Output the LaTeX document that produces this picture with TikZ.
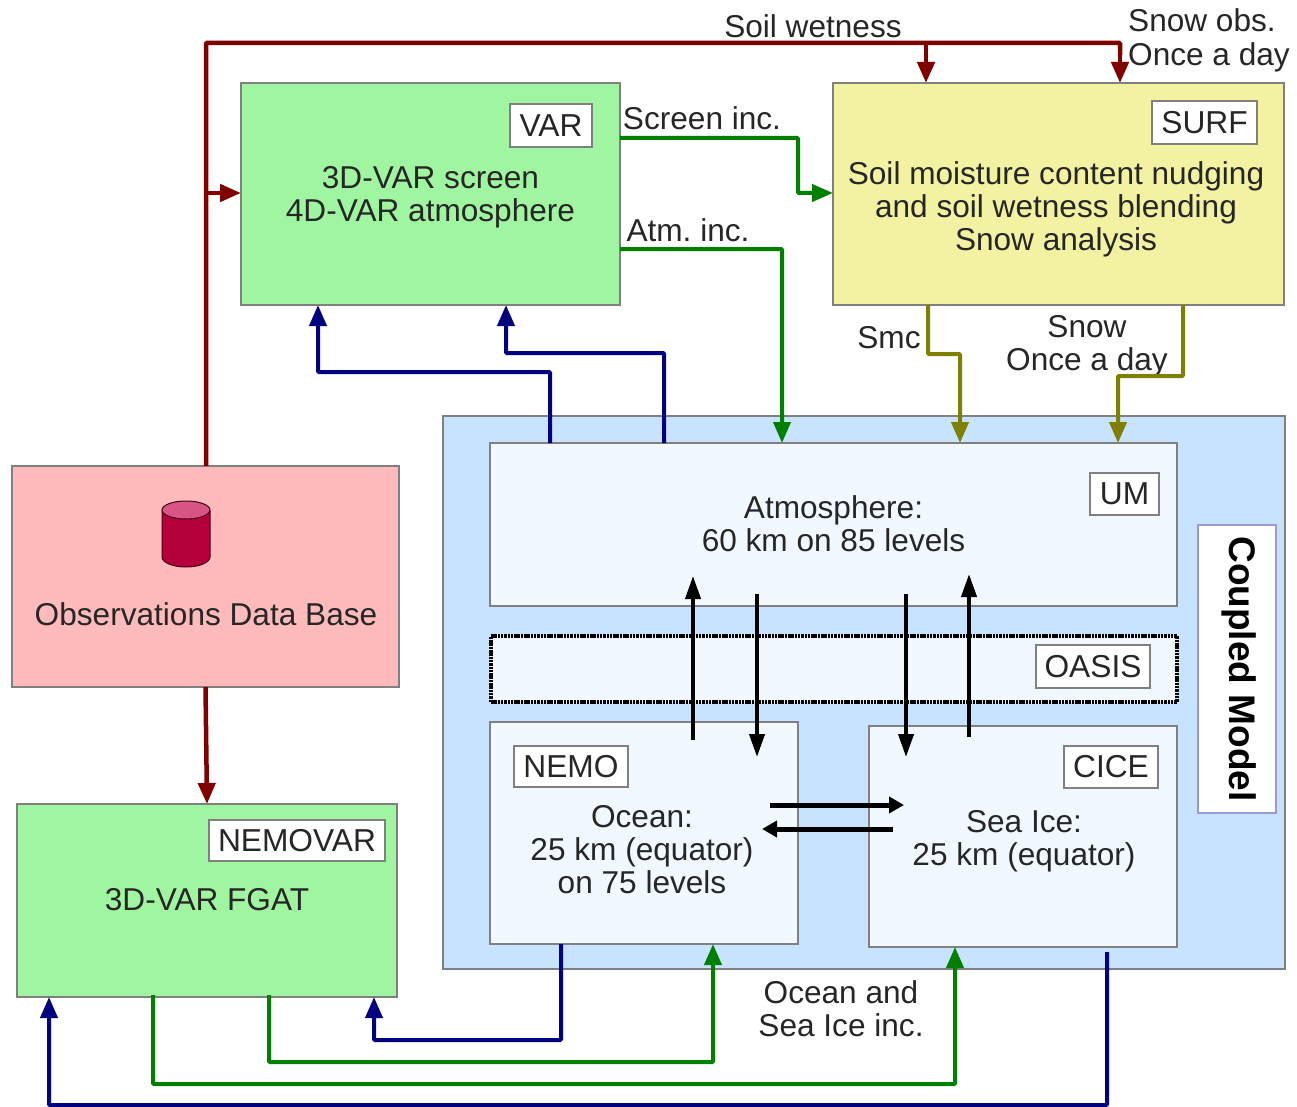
\documentclass[tikz,border=0pt]{standalone}
\usepackage{fontspec}
\setmainfont{Liberation Sans}
\usetikzlibrary{arrows.meta, positioning, calc}
\definecolor{greenbox}{HTML}{A0F5A0}
\definecolor{yellowbox}{HTML}{F2F2A2}
\definecolor{pinkbox}{HTML}{FFBBBB}
\definecolor{bluebox}{HTML}{C8E3FF}
\definecolor{palebox}{HTML}{F2F8FF}
\definecolor{notedge}{HTML}{9A9AD8}
\definecolor{dbbody}{HTML}{B5003C}
\definecolor{dbtop}{HTML}{D85585}
\definecolor{linered}{HTML}{800000}
\definecolor{linegreen}{HTML}{008000}
\definecolor{lineblue}{HTML}{000080}
\definecolor{lineolive}{HTML}{808000}

\begin{document}
\frenchspacing
\begin{tikzpicture}[x=1pt, y=-1pt,
    modelbox/.style={
        draw=black!50,
        line width=1.3pt,
        inner sep=0pt,
        outer sep=0pt
    },
    tagbox/.style={
        modelbox,
        fill=white,
        font=\fontsize{31.7}{33}\selectfont,
        text=black!85
    },
    labeltext/.style={
        font=\fontsize{31.6}{33}\selectfont,
        text=black!85,
        align=center,
        inner sep=0pt
    },
    flow/.style={
        line width=4pt,
        rounded corners=1pt,
        -{Triangle[length=21pt,width=17pt]}
    },
    redflow/.style={flow, linered, line width=4.5pt},
    greenflow/.style={flow, linegreen},
    blueflow/.style={flow, lineblue},
    oliveflow/.style={flow, lineolive},
    blackflow/.style={flow, black, -{Triangle[length=23pt,width=15pt]}},
    sideflow/.style={flow, black, line width=5pt, -{Triangle[length=15pt,width=16pt]}}
]
\useasboundingbox (0,0) rectangle (1297,1107);

% Main boxes
\node[modelbox, fill=greenbox, minimum width=379pt, minimum height=222pt] (var) at (430.5,194) {};
\node[modelbox, fill=yellowbox, minimum width=451pt, minimum height=222pt] (surf) at (1058.5,194) {};
\node[modelbox, fill=pinkbox, minimum width=387pt, minimum height=221pt] (obs) at (205.5,576.5) {};
\node[modelbox, fill=greenbox, minimum width=380pt, minimum height=193pt] (nemovar) at (207,900.5) {};
\node[modelbox, fill=bluebox, minimum width=842pt, minimum height=553pt] (coupled) at (864,692.5) {};
\node[modelbox, fill=palebox, minimum width=687pt, minimum height=163pt] (um) at (833.5,524.5) {};
\node[modelbox, fill=palebox, draw=black, line width=4.5pt, dash pattern=on 2.5pt off 0.8pt, minimum width=686pt, minimum height=66pt] (oasis) at (834,669) {};
\node[modelbox, fill=palebox, minimum width=308pt, minimum height=222pt] (nemo) at (644,833) {};
\node[modelbox, fill=palebox, minimum width=308pt, minimum height=221pt] (cice) at (1023,836.5) {};
\node[modelbox, fill=white, draw=notedge, minimum width=78pt, minimum height=288pt] (couplednote) at (1237,669) {};
\node[rotate=-90, font=\fontsize{37}{37}\selectfont\bfseries, inner sep=0pt] (coupledname) at (1239,669) {Coupled Model};

% Tags
\node[tagbox, minimum width=82pt, minimum height=43pt] (vartag) at (551,125.5) {VAR};
\node[tagbox, minimum width=105pt, minimum height=43pt] (surftag) at (1204.5,122.5) {SURF};
\node[tagbox, minimum width=69pt, minimum height=42pt] (umtag) at (1124.5,494) {UM};
\node[tagbox, minimum width=114pt, minimum height=43pt] (oasistag) at (1093,666.5) {OASIS};
\node[tagbox, minimum width=114pt, minimum height=41pt] (nemotag) at (571,766.5) {NEMO};
\node[tagbox, minimum width=94pt, minimum height=42pt] (cicetag) at (1111,767) {CICE};
\node[tagbox, minimum width=176pt, minimum height=41pt] (nemovartag) at (297,840.5) {NEMOVAR};

% Box texts
\node[labeltext] (vartext) at (430.5,197) {3D-VAR screen\\4D-VAR atmosphere};
\node[labeltext] (surftext) at (1056,209) {Soil moisture content nudging\\and soil wetness blending\\Snow analysis};
\node[labeltext] (obstext) at (206,614) {Observations Data Base};
\node[labeltext] (nemovartext) at (207,900) {3D-VAR FGAT};
\node[labeltext] (umtext) at (833.5,524) {Atmosphere:\\60 km on 85 levels};
\node[labeltext] (nemotext) at (642,850) {Ocean:\\25 km (equator)\\on 75 levels};
\node[labeltext] (cicetext) at (1024,841) {Sea Ice:\\25 km (equator)};

% Database symbol
\coordinate (dbicon) at (186,534);
\draw[draw=black!60!dbbody, line width=1pt, fill=dbbody] (162,511) -- (162,557) arc[start angle=180, end angle=0, x radius=24, y radius=10] -- (210,511) -- cycle;
\draw[draw=black!60!dbbody, line width=1pt, fill=dbtop] (dbicon |- 0,510) ellipse[x radius=24, y radius=9];

% Connector labels
\node[labeltext] (soillabel) at (813,26) {Soil wetness};
\node[labeltext, align=left, font=\fontsize{31.6}{34}\selectfont] (snowobslabel) at (1209,40) {Snow obs.\\Once a day};
\node[labeltext] (screenlabel) at (702,118) {Screen inc.};
\node[labeltext] (atmlabel) at (688,230) {Atm. inc.};
\node[labeltext] (smclabel) at (889,338) {Smc};
\node[labeltext] (snowlabel) at (1087,346) {Snow\\Once a day};
\node[labeltext] (inclabel) at (841,1009) {Ocean and\\Sea Ice inc.};

% Connector ends on the box sides
\coordinate (varred) at (241,193);
\coordinate (surfa) at (926,83);
\coordinate (surfb) at (1120,83);
\coordinate (redtop) at (206,43);
\coordinate (varscreen) at (620,138);
\coordinate (varatm) at (620,249);
\coordinate (umatm) at (782,443);
\coordinate (umblueA) at (550,443);
\coordinate (umblueB) at (664,443);
\coordinate (varblueA) at (318,305);
\coordinate (varblueB) at (506,305);
\coordinate (surfsmc) at (928,305);
\coordinate (surfsnow) at (1183,305);
\coordinate (umsmc) at (960,443);
\coordinate (umsnow) at (1118,443);
\coordinate (nemoout) at (561,944);
\coordinate (nemoin) at (713,944);
\coordinate (ciceout) at (1107,952);
\coordinate (cicein) at (955,947);
\coordinate (nvblueA) at (374,997);
\coordinate (nvblueB) at (49,997);
\coordinate (nvgreenA) at (269,995);
\coordinate (nvgreenB) at (153,995);

% Observations flows
\draw[redflow, -] (obs.north -| redtop) -- (redtop) -- (redtop -| surfb) -- ++(0,12);
\draw[redflow] (redtop -| surfb) -- (surfb);
\draw[redflow] (redtop -| surfa) -- (surfa);
\draw[redflow] (varred -| redtop) -- (varred);
\draw[redflow] (obs.south) -- (nemovar.north);

% Increments
\draw[greenflow] (varscreen) -- (798,138) -- (798,193) -- (surf.west |- 0,193);
\draw[greenflow] (varatm) -- (umatm |- varatm) -- (umatm);
\draw[oliveflow] (surfsmc) -- (928,354) -- (960,354) -- (umsmc);
\draw[oliveflow] (surfsnow) -- (1183,376) -- (1118,376) -- (umsnow);

% Background fields
\draw[blueflow] (umblueA) -- (550,372) -- (318,372) -- (varblueA);
\draw[blueflow] (umblueB) -- (664,353) -- (506,353) -- (varblueB);
\draw[blueflow] (nemoout) -- (561,1040) -- (374,1040) -- (nvblueA);
\draw[blueflow] (ciceout) -- (1107,1105) -- (49,1105) -- (nvblueB);
\draw[greenflow] (nvgreenA) -- (269,1062) -- (713,1062) -- (nemoin);
\draw[greenflow] (nvgreenB) -- (153,1084) -- (955,1084) -- (cicein);

% Coupling through OASIS
\coordinate (upA) at (693,740);
\coordinate (upAend) at (693,576);
\coordinate (downA) at (757,594);
\coordinate (downAend) at (757,757);
\coordinate (downB) at (906,594);
\coordinate (downBend) at (906,757);
\coordinate (upB) at (969,737);
\coordinate (upBend) at (969,574);
\coordinate (rightA) at (770,805);
\coordinate (rightAend) at (904,805);
\coordinate (leftA) at (893,829);
\coordinate (leftAend) at (762,829);
\draw[blackflow] (upA) -- (upAend);
\draw[blackflow] (downA) -- (downAend);
\draw[blackflow] (downB) -- (downBend);
\draw[blackflow] (upB) -- (upBend);
\draw[sideflow] (rightA) -- (rightAend);
\draw[sideflow] (leftA) -- (leftAend);

\end{tikzpicture}
\end{document}
